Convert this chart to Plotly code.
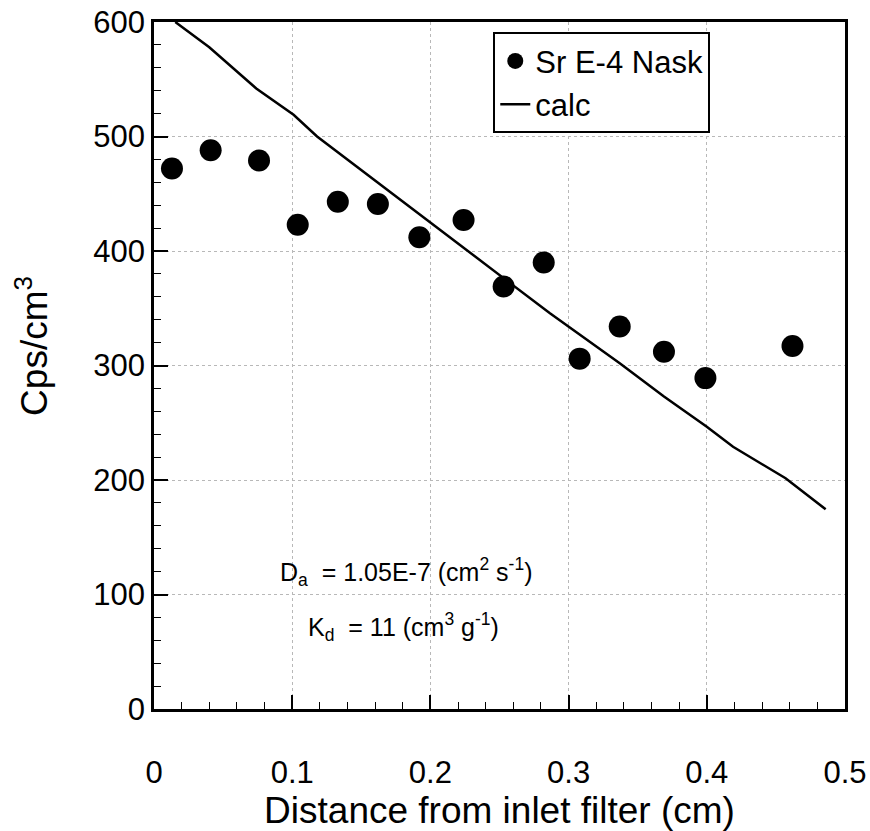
import plotly.graph_objects as go

# Measured data (Sr E-4 Nask)
x_obs = [0.013, 0.041, 0.076, 0.104, 0.133, 0.162, 0.192, 0.224, 0.253, 0.282, 0.308, 0.337, 0.369, 0.399, 0.462]
y_obs = [472, 488, 479, 423, 443, 441, 412, 427, 369, 390, 306, 334, 312, 289, 317]

# Calculated curve
x_calc = [0.0154, 0.040, 0.074, 0.101, 0.118, 0.161, 0.196, 0.225, 0.2865, 0.337, 0.369, 0.400, 0.419, 0.457, 0.486]
y_calc = [600, 578, 542, 519, 500, 460.5, 428.6, 401.5, 345.6, 302, 273, 246.6, 229, 201.5, 174.4]

x_ticks = [0, 0.1, 0.2, 0.3, 0.4, 0.5]
x_ticklabels = ["0", "0.1", "0.2", "0.3", "0.4", "0.5"]
y_ticks = [0, 100, 200, 300, 400, 500, 600]

FONT = "Liberation Sans, Arial, sans-serif"

fig = go.Figure()
fig.add_trace(go.Scatter(
    x=x_obs, y=y_obs, mode="markers", name="Sr E-4 Nask",
    marker=dict(color="black", size=22, line=dict(width=0)),
))
fig.add_trace(go.Scatter(
    x=x_calc, y=y_calc, mode="lines", name="calc",
    line=dict(color="black", width=2.5),
))

axis_common = dict(
    showline=True, linecolor="black", linewidth=2.5, mirror=True,
    ticks="inside", tickcolor="black", tickwidth=1.5,
    showgrid=True, gridcolor="#b8b8b8", griddash="dot", gridwidth=1,
    zeroline=False, automargin=False,
    tickfont=dict(family=FONT, size=31, color="black"),
)

fig.update_xaxes(
    range=[0, 0.5], tickvals=x_ticks, ticktext=x_ticklabels, ticklen=14,
    minor=dict(ticks="inside", dtick=0.02, ticklen=7, tickcolor="black", tickwidth=1.2, showgrid=False),
    ticklabelstandoff=34,
    title=dict(text="Distance from inlet filter (cm)", font=dict(family=FONT, size=37, color="black"), standoff=0),
    **axis_common,
)
fig.update_yaxes(
    range=[0, 600], tickvals=y_ticks, ticklen=14,
    minor=dict(ticks="inside", dtick=20, ticklen=7, tickcolor="black", tickwidth=1.2, showgrid=False),
    **axis_common,
)

fig.add_annotation(
    xref="paper", yref="paper", x=-0.176, y=0.5, xanchor="center", yanchor="middle",
    text="Cps/cm<sup>3</sup>", textangle=-90, showarrow=False,
    font=dict(family=FONT, size=37, color="black"), yshift=20,
)

fig.add_annotation(
    x=0.090, y=120, xref="x", yref="y", xanchor="left", yanchor="middle",
    text="D<sub>a</sub>  = 1.05E-7 (cm<sup>2</sup> s<sup>-1</sup>)", showarrow=False,
    font=dict(family=FONT, size=25, color="black"),
)
fig.add_annotation(
    x=0.110, y=72, xref="x", yref="y", xanchor="left", yanchor="middle",
    text="K<sub>d</sub>  = 11 (cm<sup>3</sup> g<sup>-1</sup>)", showarrow=False,
    font=dict(family=FONT, size=25, color="black"),
)

fig.update_layout(
    width=870, height=831,
    margin=dict(l=154, r=25, t=22, b=122, autoexpand=False),
    paper_bgcolor="white", plot_bgcolor="white",
    showlegend=True,
    legend=dict(
        x=0.491, y=0.985, xanchor="left", yanchor="top",
        bordercolor="black", borderwidth=2, bgcolor="white",
        font=dict(family=FONT, size=31, color="black"),
        itemwidth=30, tracegroupgap=0,
    ),
    font=dict(family=FONT, color="black"),
)

fig.write_html("out.html")
